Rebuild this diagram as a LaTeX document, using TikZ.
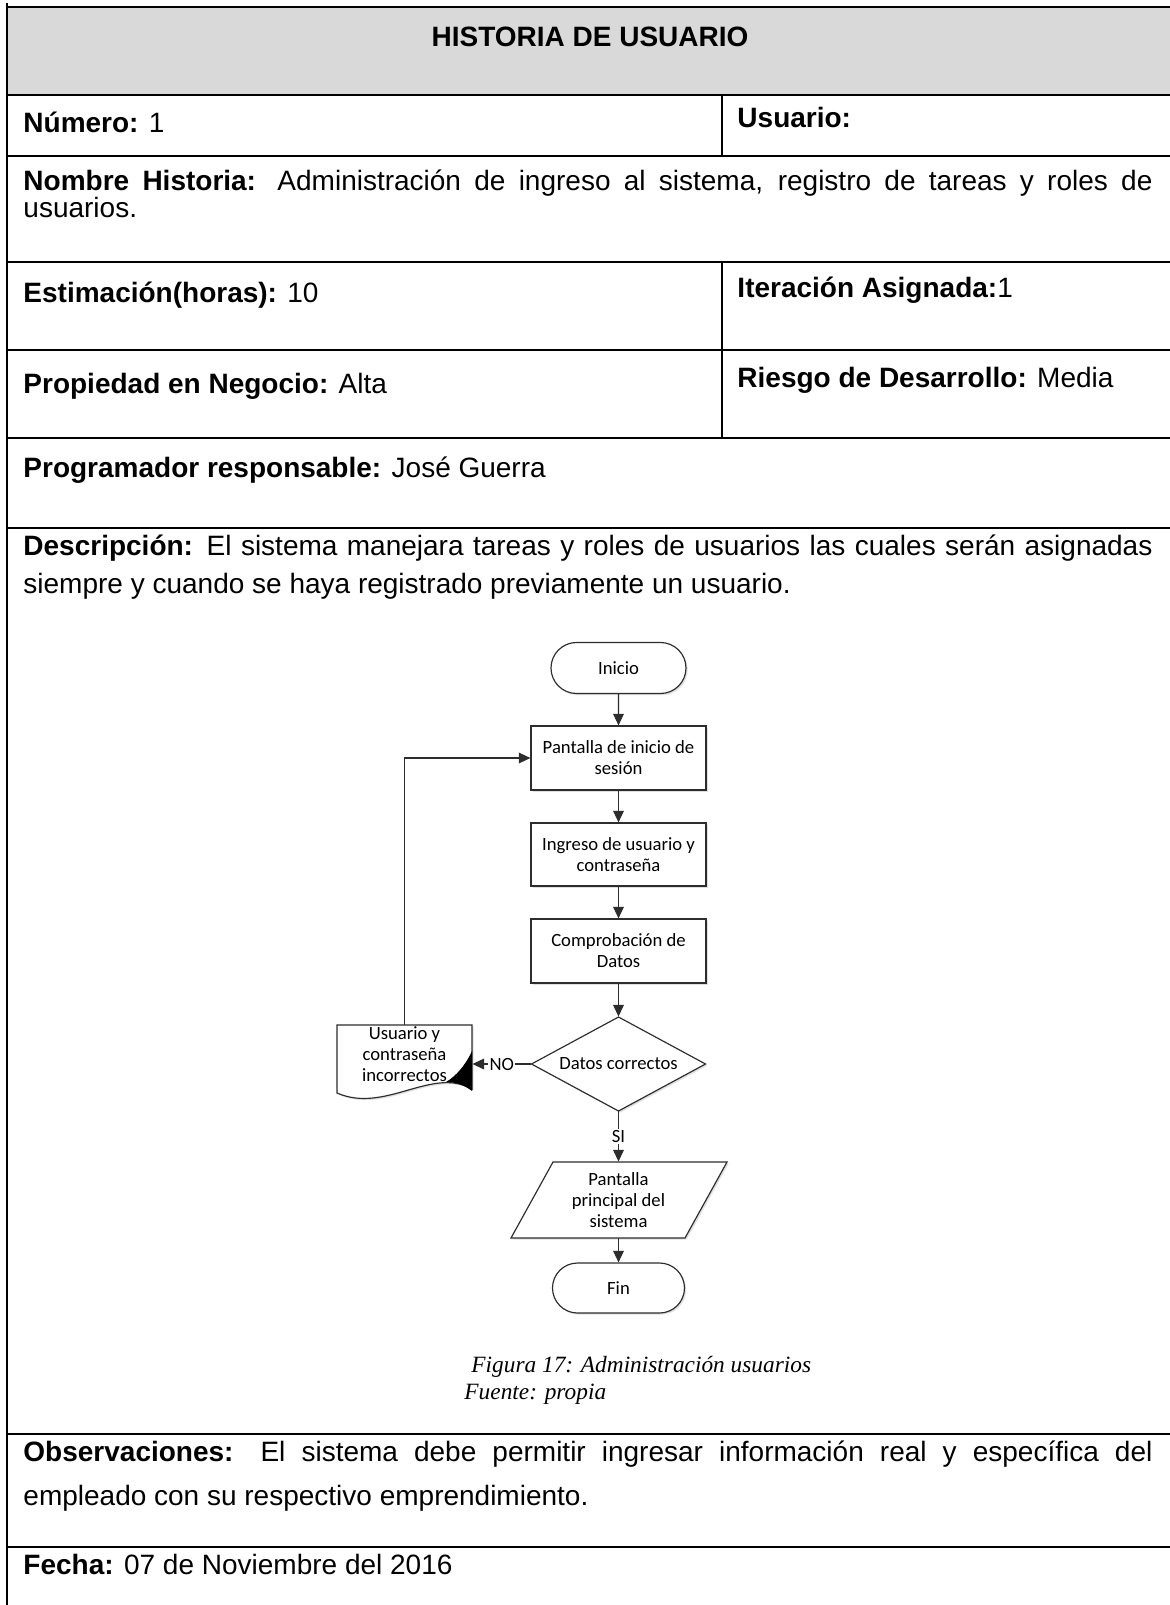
\documentclass[tikz,border=0pt]{standalone}
\usepackage{fontspec}
\setmainfont{Liberation Sans}
\newfontfamily\flowfont{Carlito}
\newfontfamily\capfont{Liberation Serif}
\usetikzlibrary{arrows.meta,shapes.misc,calc,shadows}
\newlength\pxl
\setlength\pxl{0.4286pt}
\def\pxu{0.4286}
\definecolor{hdr}{RGB}{217,217,217}
\definecolor{fline}{RGB}{45,45,45}
\newcommand\twolines[3]{\vtop{\hsize=1129\pxl \parindent=0pt \parskip=0pt
  \baselineskip=#1\pxl \lineskiplimit=-\maxdimen \lineskip=0pt
  \makebox[\hsize][s]{#2}\par #3\par}}
\begin{document}
\begin{tikzpicture}[x=0.4286pt,y=-0.4286pt,
 tbl/.style={line width=1.1pt, black},
 divl/.style={line width=0.55pt, black},
 cell/.style={anchor=base west, inner sep=0pt, font=\fontsize{12}{14}\selectfont},
 sz/.style 2 args={minimum width=\pxu*#1pt, minimum height=\pxu*#2pt},
 fshape/.style={draw=fline, line width=0.5pt, fill=white, drop shadow={shadow xshift=0.7pt, shadow yshift=-0.7pt, opacity=0.25}},
 ftext/.style={font=\flowfont\fontsize{8}{9}\selectfont, align=center, inner sep=0pt},
 farrow/.style={draw=fline, line width=0.5pt, -{Triangle[length=5pt,width=4.6pt]}},
 flabel/.style={font=\flowfont\fontsize{8}{9}\selectfont, fill=white, inner sep=0.6pt},
 capt/.style={font=\capfont\itshape\fontsize{10}{12}\selectfont, anchor=base west, inner sep=0pt}
]
\useasboundingbox (0,0) rectangle (1169,1605);
\fill[white] (0,0) rectangle (1169,1605);
% header
\fill[hdr] (7,7) rectangle (1190,95);
% table lines
\draw[tbl] (7,3) -- (7,1610);
\foreach \yy in {7,95,156,262,350,438,528,1434,1547}
  \draw[tbl] (7,\yy) -- (1190,\yy);
\draw[divl] (722,95) -- (722,156);
\draw[divl] (722,262) -- (722,438);
% table texts
\node[cell, anchor=base, font=\bfseries\fontsize{12}{14}\selectfont] (title) at (590,47) {HISTORIA DE USUARIO};
\node[cell] (num) at (23,132) {\textbf{Número:} 1};
\node[cell] (usr) at (737,127) {\textbf{Usuario:}};
\node[cell] (nom) at (23,190) {\twolines{27}{\textbf{Nombre Historia:} Administración de ingreso al sistema, registro de tareas y roles de}{usuarios.}};
\node[cell] (est) at (23,302) {\textbf{Estimación(horas):} 10};
\node[cell] (ite) at (737,297) {\textbf{Iteración Asignada:}1};
\node[cell] (pro) at (23,393) {\textbf{Propiedad en Negocio:} Alta};
\node[cell] (rie) at (737,387) {\textbf{Riesgo de Desarrollo:} Media};
\node[cell] (prg) at (23,477) {\textbf{Programador responsable:} José Guerra};
\node[cell] (des) at (23,555) {\twolines{38}{\textbf{Descripción:} El sistema manejara tareas y roles de usuarios las cuales serán asignadas}{siempre y cuando se haya registrado previamente un usuario.}};
\node[cell] (obs) at (23,1461) {\twolines{44}{\textbf{Observaciones:} El sistema debe permitir ingresar información real y específica del}{empleado con su respectivo emprendimiento.}};
\node[cell] (fec) at (23,1574) {\textbf{Fecha:} 07 de Noviembre del 2016};
% flowchart shapes
\node[fshape, rounded rectangle, sz={135}{51}, ftext] (ini) at (618.5,668) {Inicio};
\node[fshape, rectangle, sz={175}{64}, ftext] (pan) at (618.5,758) {Pantalla de inicio de\\sesión};
\node[fshape, rectangle, sz={175}{63}, ftext] (ing) at (618.5,854.5) {Ingreso de usuario y\\contraseña};
\node[fshape, rectangle, sz={175}{64}, ftext] (com) at (618.5,951) {Comprobación de\\Datos};
\draw[fshape] (618.5,1017) -- (705.5,1064) -- (618.5,1111) -- (531.5,1064) -- cycle;
\node[ftext, sz={174}{94}] (dia) at (618.5,1064) {Datos correctos};
\draw[fshape] (337,1025) -- (472,1025) -- (472,1089) .. controls (432,1066) and (385,1114) .. (337,1093) -- cycle;
\fill[black] (472,1051) .. controls (465,1066) and (456,1076) .. (446,1082) .. controls (456,1082) and (464,1085) .. (472,1091) -- cycle;
\node[sz={135}{68}, inner sep=0pt] (docbox) at (404.5,1059) {};
\node[ftext] (doc) at (404.5,1054) {Usuario y\\contraseña\\incorrectos};
\draw[fshape] (553,1162) -- (727,1162) -- (685,1238) -- (511,1238) -- cycle;
\node[ftext, sz={216}{76}] (par) at (618.5,1200) {Pantalla\\principal del\\sistema};
\node[fshape, rounded rectangle, sz={132}{50}, ftext] (fin) at (618.5,1288) {Fin};
% connectors
\draw[farrow] (ini) -- (pan);
\draw[farrow] (pan) -- (ing);
\draw[farrow] (ing) -- (com);
\draw[farrow] (com) -- (dia);
\draw[farrow] (dia.west) -- (dia.west -| docbox.east) node[midway, flabel] {NO};
\draw[farrow] (dia.south) -- (par.north) node[midway, flabel] {SI};
\draw[farrow] (par.south) -- (fin.north);
\draw[farrow] (docbox.north) |- (pan.west);
% caption
\node[capt] (cap1) at (471,1372) {Figura 17: Administración usuarios};
\node[capt] (cap2) at (464,1399) {Fuente: propia};
\end{tikzpicture}
\end{document}
